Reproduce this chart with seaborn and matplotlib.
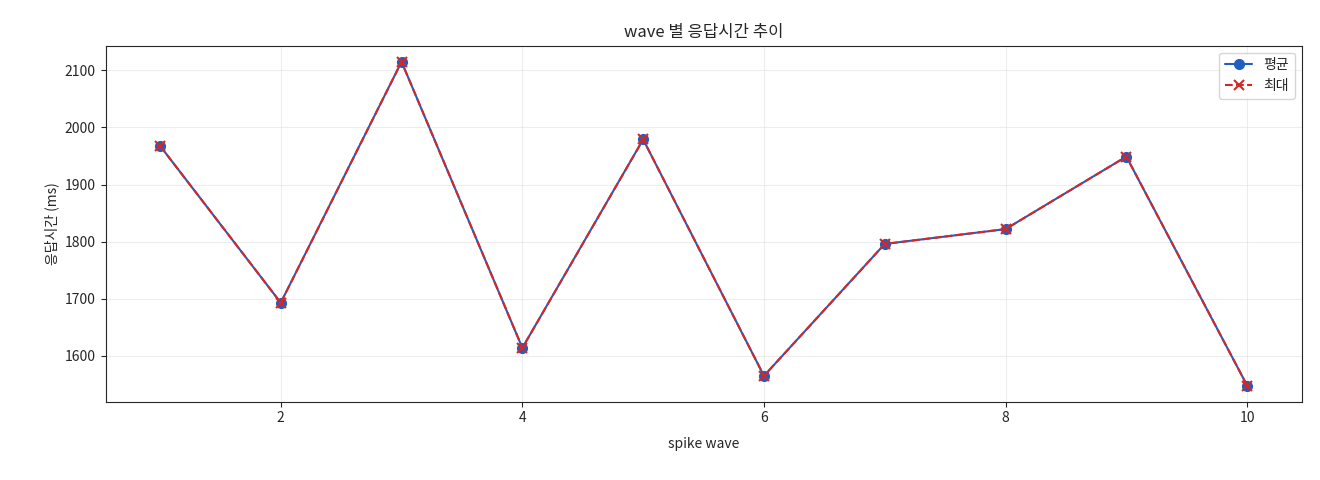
import matplotlib
matplotlib.use("Agg")
import matplotlib.pyplot as plt
import seaborn as sns
import pandas as pd

waves = [1, 2, 3, 4, 5, 6, 7, 8, 9, 10]
avg_ms = [1968, 1693, 2115, 1614, 1979, 1565, 1796, 1822, 1949, 1548]
max_ms = [1968, 1693, 2115, 1614, 1979, 1565, 1796, 1822, 1949, 1548]

sns.set_style("ticks")
plt.rcParams['font.family'] = ['Noto Sans CJK KR', 'DejaVu Sans']

df = pd.DataFrame({"wave": waves, "avg": avg_ms, "max": max_ms})
fig, ax = plt.subplots(figsize=(13.2, 4.8), dpi=100)
sns.lineplot(data=df, x="wave", y="avg", ax=ax, color="#1f5fbf", marker="o",
             markersize=7, markeredgecolor="#1f5fbf", markeredgewidth=1,
             label="평균", linewidth=1.5)
sns.lineplot(data=df, x="wave", y="max", ax=ax, color="#d62728", marker="x",
             markersize=7, markeredgecolor="#d62728", markeredgewidth=1.5,
             label="최대", linewidth=1.5)
ax.lines[1].set_linestyle((0, (3.7, 1.6)))
ax.grid(True, alpha=0.5, color="#dddddd")
ax.set_title("wave 별 응답시간 추이", fontsize=12)
ax.set_xlabel("spike wave", labelpad=8)
ax.set_ylabel("응답시간 (ms)")
ax.legend(loc="upper right")
leg = ax.get_legend()
leg.get_lines()[1].set_linestyle((0, (3.7, 1.6)))
fig.subplots_adjust(left=0.08, right=0.986, top=0.905, bottom=0.163)
fig.savefig("out.png")
